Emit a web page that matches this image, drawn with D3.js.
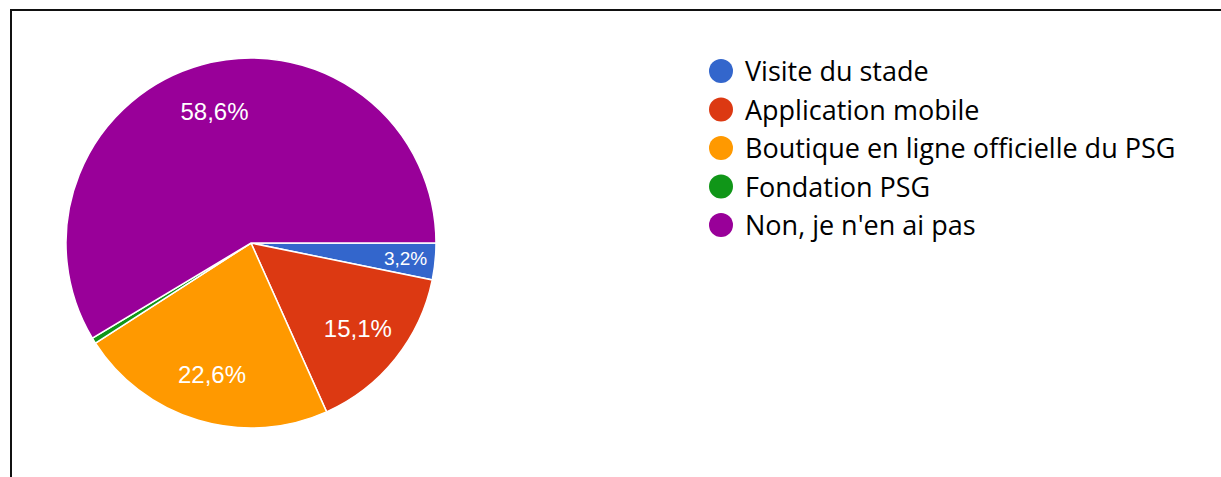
<!DOCTYPE html>
<html>
<head>
<meta charset="utf-8">
<script src="https://d3js.org/d3.v7.min.js"></script>
<style>
  body { margin: 0; background: #fff; }
</style>
</head>
<body>
<script>
var categories = ['Visite du stade', 'Application mobile', 'Boutique en ligne officielle du PSG',
                  'Fondation PSG', "Non, je n'en ai pas"];
var values = [3.2, 15.1, 22.6, 0.5, 58.6];
var labels = ['3,2%', '15,1%', '22,6%', '', '58,6%'];
var colors = ['#3366cc', '#dc3912', '#ff9900', '#109618', '#990099'];

var width = 1221;
var height = 477;
var cx = 251;
var cy = 243;
var radius = 185;

var svg = d3.select('body').append('svg')
  .attr('width', width)
  .attr('height', height);

// frame (only top and left edges are visible in the crop)
svg.append('path')
  .attr('d', 'M11,' + height + ' V10 H' + width)
  .attr('fill', 'none')
  .attr('stroke', '#111')
  .attr('stroke-width', 2);

var pie = d3.pie()
  .value(function(d) { return d; })
  .sort(null)
  .startAngle(Math.PI / 2)
  .endAngle(Math.PI / 2 + 2 * Math.PI);

var arc = d3.arc().innerRadius(0).outerRadius(radius);

var g = svg.append('g').attr('transform', 'translate(' + cx + ',' + cy + ')');

var slices = pie(values);

g.selectAll('path.slice')
  .data(slices)
  .enter().append('path')
  .attr('class', 'slice')
  .attr('d', arc)
  .attr('fill', function(d, i) { return colors[i]; })
  .attr('stroke', '#fff')
  .attr('stroke-width', 1.5);

g.selectAll('text.lbl')
  .data(slices)
  .enter().append('text')
  .attr('class', 'lbl')
  .attr('transform', function(d) {
    var small = (d.endAngle - d.startAngle) < 0.3;
    var r = small ? radius * 0.84 : radius * 0.74;
    var a = (d.startAngle + d.endAngle) / 2;
    return 'translate(' + (Math.sin(a) * r) + ',' + (-Math.cos(a) * r) + ')';
  })
  .attr('text-anchor', 'middle')
  .attr('dy', '0.36em')
  .attr('fill', '#fff')
  .style('font-family', '"Liberation Sans", Arial, sans-serif')
  .style('font-size', function(d) { return (d.endAngle - d.startAngle) < 0.3 ? '19px' : '24px'; })
  .text(function(d, i) { return labels[i]; });

// legend
var legend = svg.append('g').attr('transform', 'translate(721,71)');
var legendY = d3.scalePoint().domain(categories).range([0, 154]);

var items = legend.selectAll('g.item')
  .data(categories)
  .enter().append('g')
  .attr('class', 'item')
  .attr('transform', function(d) { return 'translate(0,' + legendY(d) + ')'; });

items.append('circle')
  .attr('r', 12)
  .attr('fill', function(d, i) { return colors[i]; });

items.append('text')
  .attr('x', 24)
  .attr('y', 10)
  .style('font-family', '"Open Sans", sans-serif')
  .style('font-size', '27px')
  .attr('fill', '#000')
  .text(function(d) { return d; });
</script>
</body>
</html>
